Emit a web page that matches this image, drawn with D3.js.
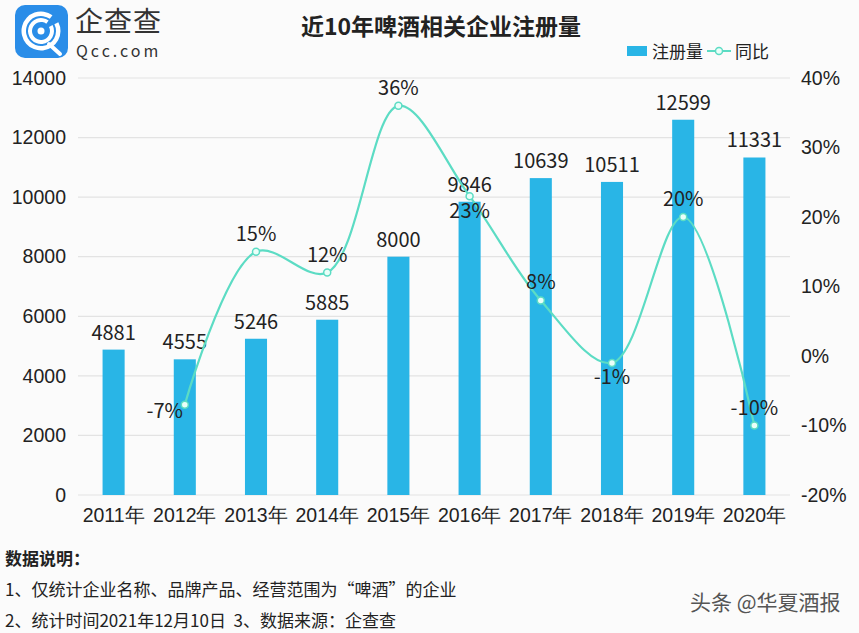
<!DOCTYPE html>
<html><head><meta charset="utf-8">
<script src="https://cdn.jsdelivr.net/npm/d3@7"></script>
<style>
body{margin:0;background:#fbfbfb;}
svg{display:block;font-family:"Noto Sans CJK SC","Noto Sans",sans-serif;}
</style></head><body>
<svg id="c" width="859" height="633"></svg>
<script>
const years = ["2011年","2012年","2013年","2014年","2015年","2016年","2017年","2018年","2019年","2020年"];
const registrations = [4881,4555,5246,5885,8000,9846,10639,10511,12599,11331];
const yoy = [null,-7,15,12,36,23,8,-1,20,-10];
const leftTicks = [0,2000,4000,6000,8000,10000,12000,14000];
const rightTicks = [-20,-10,0,10,20,30,40];
const title = "近10年啤酒相关企业注册量";
const notes = ["数据说明：","1、仅统计企业名称、品牌产品、经营范围为“啤酒”的企业","2、统计时间2021年12月10日  3、数据来源：企查查"];

const svg = d3.select("#c");
const barColor = "#29b5e6", lineColor = "#5cdcc4";
const L = 78, R = 790, T = 78, B = 495;

const x = d3.scaleBand().domain(years).range([L,R]).paddingInner(0.69).paddingOuter(0.345);
const y = d3.scaleLinear().domain([0,14000]).range([B,T]);
const y2 = d3.scaleLinear().domain([-20,40]).range([B,T]);

// gridlines
svg.append("g").selectAll("line").data(leftTicks).join("line")
  .attr("x1",L).attr("x2",R).attr("y1",d=>y(d)).attr("y2",d=>y(d))
  .attr("stroke","#e3e3e3").attr("stroke-width",1.2);

// left axis
const la = svg.append("g").attr("transform",`translate(${L},0)`)
  .call(d3.axisLeft(y).tickValues(leftTicks).tickSize(0).tickPadding(12).tickFormat(d3.format("d")));
la.select(".domain").remove();
la.selectAll("text").attr("font-size",19.5).attr("fill","#222");

// right axis
const ra = svg.append("g").attr("transform",`translate(${R},0)`)
  .call(d3.axisRight(y2).tickValues(rightTicks).tickSize(0).tickPadding(11).tickFormat(d=>d+"%"));
ra.select(".domain").remove();
ra.selectAll("text").attr("font-size",19.5).attr("fill","#222");

// x axis
const xa = svg.append("g").attr("transform",`translate(0,${B})`)
  .call(d3.axisBottom(x).tickSize(0).tickPadding(13));
xa.select(".domain").remove();
xa.selectAll("text").attr("font-size",19.5).attr("fill","#222");

// bars
svg.append("g").selectAll("rect").data(registrations).join("rect")
  .attr("x",(d,i)=>x(years[i])).attr("width",x.bandwidth())
  .attr("y",d=>y(d)).attr("height",d=>B-y(d)).attr("fill",barColor);

svg.append("g").selectAll("text").data(registrations).join("text")
  .attr("x",(d,i)=>x(years[i])+x.bandwidth()/2).attr("y",d=>y(d)-10)
  .attr("text-anchor","middle").attr("font-size",20).attr("fill","#222").text(d=>d);

// line
const pts = yoy.map((v,i)=>({v,i})).filter(d=>d.v!==null);
const cx = d=>x(years[d.i])+x.bandwidth()/2;
const line = d3.line().x(cx).y(d=>y2(d.v)).curve(d3.curveCatmullRom.alpha(0.5));
svg.append("path").datum(pts).attr("d",line).attr("fill","none")
  .attr("stroke",lineColor).attr("stroke-width",2.2);
svg.append("g").selectAll("circle").data(pts).join("circle")
  .attr("cx",cx).attr("cy",d=>y2(d.v)).attr("r",3.5)
  .attr("fill","#eafff9").attr("stroke",lineColor).attr("stroke-width",1.5);

// percent labels
const off = {1:[-20,13],5:[0,22],7:[0,21]};
svg.append("g").selectAll("text").data(pts).join("text")
  .attr("x",d=>cx(d)+(off[d.i]?off[d.i][0]:0))
  .attr("y",d=>y2(d.v)+(off[d.i]?off[d.i][1]:-11))
  .attr("text-anchor","middle").attr("font-size",20).attr("fill","#222")
  .text(d=>d.v+"%");

// title
svg.append("text").attr("x",441).attr("y",35).attr("text-anchor","middle")
  .attr("font-size",23).attr("font-weight","bold").attr("fill","#222").text(title);

// legend
svg.append("rect").attr("x",627).attr("y",46).attr("width",20).attr("height",10).attr("fill",barColor);
svg.append("text").attr("x",652).attr("y",58).attr("font-size",17).attr("fill","#222").text("注册量");
svg.append("line").attr("x1",707).attr("x2",731).attr("y1",51).attr("y2",51).attr("stroke",lineColor).attr("stroke-width",2);
svg.append("circle").attr("cx",719).attr("cy",51).attr("r",3.5).attr("fill","#eafff9").attr("stroke",lineColor).attr("stroke-width",1.5);
svg.append("text").attr("x",735).attr("y",58).attr("font-size",17).attr("fill","#222").text("同比");

// logo
const lg = svg.append("g");
lg.append("rect").attr("x",15).attr("y",5).attr("width",53).attr("height",53).attr("rx",10).attr("fill","#2a8de8");
const arc = d3.arc();
[[15,19.5],[9,13]].forEach(([r0,r1])=>{
  lg.append("path").attr("transform","translate(41,31)")
    .attr("d",arc({innerRadius:r0,outerRadius:r1,startAngle:0.35*Math.PI,endAngle:2.2*Math.PI})).attr("fill","#fff");
});
lg.append("circle").attr("cx",41).attr("cy",31).attr("r",3.5).attr("fill","#fff");
lg.append("path").attr("d","M49,44 L60,54").attr("stroke","#fff").attr("stroke-width",4).attr("stroke-linecap","round");
lg.append("text").attr("x",75).attr("y",32).attr("font-size",28).attr("letter-spacing",1).attr("fill","#333").text("企查查");
lg.append("text").attr("x",76).attr("y",57).attr("font-size",16).attr("letter-spacing",3).attr("fill","#333").text("Qcc.com");

// notes
svg.append("g").selectAll("text").data(notes).join("text")
  .attr("x",5).attr("y",(d,i)=>565+i*31).attr("font-size",17)
  .style("white-space","pre")
  .attr("font-weight",(d,i)=>i===0?"bold":"normal").attr("fill","#222").text(d=>d);

// watermark
svg.append("text").attr("x",690).attr("y",610).attr("font-size",21).attr("fill","#555")
  .attr("stroke","#fff").attr("stroke-width",0.6).attr("paint-order","stroke").text("头条 @华夏酒报");
</script></body></html>
